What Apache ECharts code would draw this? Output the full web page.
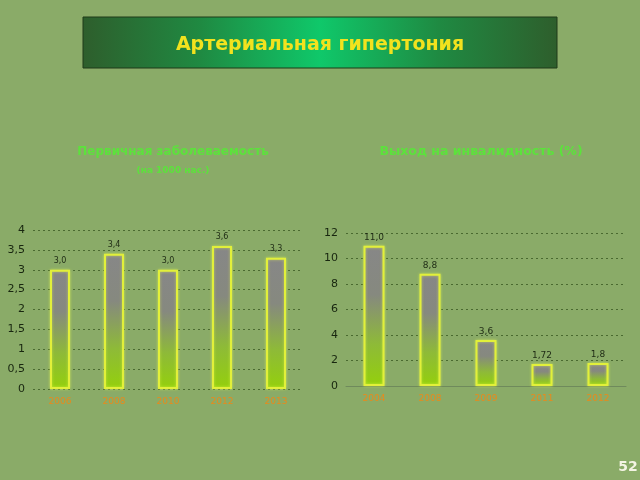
<!DOCTYPE html>
<html><head><meta charset="utf-8">
<script src="https://cdn.jsdelivr.net/npm/echarts@6/dist/echarts.min.js"></script>
<style>html,body{margin:0;padding:0;background:#8aab68}#c{width:640px;height:480px}</style>
</head><body><div id="c"></div>
<script>
const leftCategories = ['2006','2008','2010','2012','2013'];
const leftValues = [3.0, 3.4, 3.0, 3.6, 3.3];
const leftTicks = {min:0, max:4, interval:0.5};
const rightCategories = ['2004','2008','2009','2011','2012'];
const rightValues = [11.0, 8.8, 3.6, 1.72, 1.8];
const rightLabels = ['11,0','8,8','3,6','1,72','1,8'];
const rightTicks = {min:0, max:12, interval:2};

const chart = echarts.init(document.getElementById('c'));
const barGrad = new echarts.graphic.LinearGradient(0,0,0,1,[
  {offset:0,color:'#878787'},{offset:0.35,color:'#86897f'},{offset:0.7,color:'#8eba38'},{offset:1,color:'#94d00c'}]);
const barStyle = {color:barGrad, borderColor:'#e2f03a', borderWidth:2, shadowColor:'rgba(230,250,80,0.6)', shadowBlur:3};
const fmt = v => String(v).replace('.', ',');
const yAxisBase = (t) => ({
  type:'value', min:t.min, max:t.max, interval:t.interval,
  axisLine:{show:false}, axisTick:{show:false},
  axisLabel:{color:'#18260f', fontSize:11, fontFamily:'DejaVu Sans', margin:8, formatter:fmt},
  splitLine:{show:true, lineStyle:{type:[2,3], color:'#4a6a30', width:1}}
});
const xLabel = {color:'#e88a1c', fontSize:9, fontFamily:'DejaVu Sans', margin:8};
chart.setOption({
  backgroundColor:'#8aab68',
  animation:false,
  graphic:[
    {type:'rect', shape:{x:83,y:17,width:474,height:51},
     style:{fill:new echarts.graphic.LinearGradient(0,0,1,0,[
       {offset:0,color:'#2e5e2c'},{offset:0.25,color:'#1f8a42'},{offset:0.5,color:'#0fc86a'},{offset:0.75,color:'#1f8a42'},{offset:1,color:'#2e5e2c'}]),
       stroke:'#1e3a18', lineWidth:1}},
    {type:'text', x:320, y:45, style:{text:'Артериальная гипертония', fill:'#f2e21e', font:'bold 19px "DejaVu Sans"', align:'center', verticalAlign:'middle'}},
    {type:'text', x:173, y:152, style:{text:'Первичная заболеваемость', fill:'#5ce23c', font:'bold 12px "DejaVu Sans"', align:'center', verticalAlign:'middle'}},
    {type:'text', x:173, y:171, style:{text:'(на 1000 нас.)', fill:'#5ce23c', font:'bold 9px "DejaVu Sans"', align:'center', verticalAlign:'middle'}},
    {type:'text', x:481, y:152, style:{text:'Выход на инвалидность (%)', fill:'#5ce23c', font:'bold 12.5px "DejaVu Sans"', align:'center', verticalAlign:'middle'}},
    {type:'text', x:628, y:467, style:{text:'52', fill:'#f4f4e4', font:'bold 14px "DejaVu Sans"', align:'center', verticalAlign:'middle'}}
  ],
  grid:[
    {left:33, right:337, top:230, bottom:91},
    {left:346, right:14, top:233, bottom:94}
  ],
  xAxis:[
    {type:'category', gridIndex:0, data:leftCategories, axisLine:{show:false}, axisTick:{show:false}, axisLabel:xLabel},
    {type:'category', gridIndex:1, data:rightCategories, axisLine:{show:true, lineStyle:{color:'#6f8a5c'}}, axisTick:{show:false}, axisLabel:xLabel}
  ],
  yAxis:[
    Object.assign(yAxisBase(leftTicks), {gridIndex:0}),
    Object.assign(yAxisBase(rightTicks), {gridIndex:1})
  ],
  series:[
    {type:'bar', xAxisIndex:0, yAxisIndex:0, data:leftValues, barWidth:20, itemStyle:barStyle,
     label:{show:true, position:'top', distance:5, color:'#1e2a14', fontSize:8, fontFamily:'DejaVu Sans', formatter:p=>p.value.toFixed(1).replace('.',',')}},
    {type:'bar', xAxisIndex:1, yAxisIndex:1, data:rightValues, barWidth:21, itemStyle:barStyle,
     label:{show:true, position:'top', distance:4, color:'#1e2a14', fontSize:9, fontFamily:'DejaVu Sans', formatter:p=>rightLabels[p.dataIndex]}}
  ]
});
</script></body></html>
